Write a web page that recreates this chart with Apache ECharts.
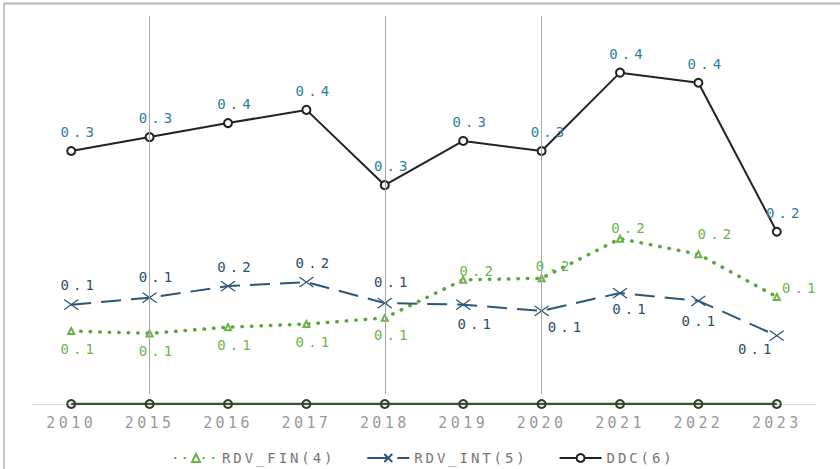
<!DOCTYPE html>
<html>
<head>
<meta charset="utf-8">
<title>RDV / DDC</title>
<script src="https://cdn.jsdelivr.net/npm/echarts@6/dist/echarts.min.js"></script>
<style>
    html, body { margin: 0; padding: 0; background: #fff; }
    #chart { width: 840px; height: 469px; }
    /* wide-spaced monospace look of the original */
    #chart text { letter-spacing: 4.1px; }
    #chart text[fill="#999"] { letter-spacing: 3.4px; }
    #chart text[fill="#777"] { letter-spacing: 2.9px; }
</style>
</head>
<body>
<div id="chart"></div>
<script>
const years = ['2010', '2015', '2016', '2017', '2018', '2019', '2020', '2021', '2022', '2023'];
const rdvFin = [0.094, 0.091, 0.099, 0.103, 0.111, 0.160, 0.162, 0.213, 0.193, 0.138];
const rdvInt = [0.128, 0.137, 0.152, 0.157, 0.130, 0.128, 0.120, 0.143, 0.133, 0.088];
const ddc = [0.326, 0.344, 0.362, 0.379, 0.282, 0.339, 0.326, 0.427, 0.414, 0.222];
const baseLine = [0, 0, 0, 0, 0, 0, 0, 0, 0, 0];
const markedYears = ['2015', '2018', '2020'];

// label placement (offset from the point), one per year
const finLabelOffset = [[8, 18], [8, 18], [8, 18], [8, 18], [8, 17], [15, -9], [13, -12], [10, -11], [18, -20], [24, -9]];
const intLabelOffset = [[8, -20], [8, -21], [8, -19], [8, -19], [8, -21], [13, 19], [25, 16], [11, 16], [2, 20], [-20, 13]];
const ddcLabelOffset = [8, -19];

const monoFont = '"DejaVu Sans Mono", "Liberation Mono", monospace';

function withLabels(values, offsets) {
    return values.map((v, i) => ({
        value: v,
        label: {
            offset: Array.isArray(offsets[0]) ? offsets[i] : offsets
        }
    }));
}

function labelStyle(color) {
    return {
        show: true,
        position: 'inside',
        color: color,
        fontFamily: monoFont,
        fontSize: 14,
        textBorderWidth: 0,
        formatter: p => p.value.toFixed(1)
    };
}

const chart = echarts.init(document.getElementById('chart'), null, { renderer: 'svg' });

chart.setOption({
    animation: false,
    backgroundColor: '#fff',
    grid: { left: 32, right: 24, top: 16, bottom: 65 },
    legend: {
        data: ['RDV_FIN(4)', 'RDV_INT(5)', 'DDC(6)'],
        left: 169,
        top: 446,
        itemWidth: 42,
        itemHeight: 10,
        itemGap: 60,
        textStyle: {
            color: '#777',
            fontFamily: monoFont,
            fontSize: 14
        }
    },
    graphic: [
        { type: 'line', shape: { x1: 4, y1: 3.5, x2: 840, y2: 3.5 }, style: { stroke: '#b5b5b5', lineWidth: 2 } },
        { type: 'line', shape: { x1: 4, y1: 3, x2: 4, y2: 469 }, style: { stroke: '#b5b5b5', lineWidth: 1.5 } }
    ],
    xAxis: {
        type: 'category',
        data: years,
        axisLine: { lineStyle: { color: '#d9d9d9', width: 1 } },
        axisTick: { show: false },
        axisLabel: {
            color: '#999',
            fontFamily: monoFont,
            fontSize: 15,
            margin: 11
        },
        splitLine: { show: false }
    },
    yAxis: {
        type: 'value',
        min: 0,
        max: 0.5,
        show: false,
        splitLine: { show: false }
    },
    series: [
        {
            name: 'RDV_FIN(4)',
            type: 'line',
            data: withLabels(rdvFin, finLabelOffset),
            symbol: 'emptyTriangle',
            symbolSize: 6,
            itemStyle: { color: '#6db34b', borderColor: '#6db34b', borderWidth: 1 },
            lineStyle: { color: '#5aa83c', width: 3.5, type: [0.5, 9], cap: 'round' },
            label: labelStyle('#6db34b'),
            markLine: {
                silent: true,
                symbol: ['none', 'none'],
                label: { show: false },
                lineStyle: { color: '#a6a6a6', width: 1, type: 'solid' },
                data: markedYears.map(y => [{ coord: [y, 0.5] }, { coord: [y, 0.013] }])
            },
            z: 3
        },
        {
            name: 'RDV_INT(5)',
            type: 'line',
            data: withLabels(rdvInt, intLabelOffset),
            symbol: 'path://M0,0L14,10M14,0L0,10',
            symbolSize: [14, 10],
            itemStyle: { color: '#2d5577', borderColor: '#2d5577', borderWidth: 1.3 },
            lineStyle: { color: '#2d5577', width: 2, type: [20, 10] },
            label: labelStyle('#2c4e6c'),
            z: 3
        },
        {
            name: 'DDC(6)',
            type: 'line',
            data: withLabels(ddc, ddcLabelOffset),
            symbol: 'emptyCircle',
            symbolSize: 8,
            itemStyle: { color: '#222', borderColor: '#222', borderWidth: 1 },
            lineStyle: { color: '#222', width: 2 },
            label: labelStyle('#2f7ea0'),
            z: 4
        },
        {
            name: 'base',
            type: 'line',
            data: baseLine,
            symbol: 'circle',
            symbolSize: 8,
            itemStyle: { color: 'none', borderColor: '#2f3f28', borderWidth: 2 },
            lineStyle: { color: '#3b5530', width: 2.5 },
            label: { show: false },
            z: 2
        }
    ]
});
</script>
</body>
</html>
